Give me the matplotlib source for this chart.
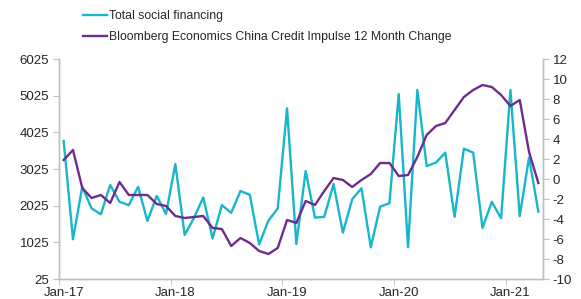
import matplotlib
matplotlib.use("Agg")
import matplotlib.pyplot as plt
from matplotlib.lines import Line2D

plt.rcParams['font.family'] = ['Liberation Sans', 'DejaVu Sans']

months = ['Jan-17','Feb-17','Mar-17','Apr-17','May-17','Jun-17','Jul-17','Aug-17','Sep-17','Oct-17','Nov-17','Dec-17',
          'Jan-18','Feb-18','Mar-18','Apr-18','May-18','Jun-18','Jul-18','Aug-18','Sep-18','Oct-18','Nov-18','Dec-18',
          'Jan-19','Feb-19','Mar-19','Apr-19','May-19','Jun-19','Jul-19','Aug-19','Sep-19','Oct-19','Nov-19','Dec-19',
          'Jan-20','Feb-20','Mar-20','Apr-20','May-20','Jun-20','Jul-20','Aug-20','Sep-20','Oct-20','Nov-20','Dec-20',
          'Jan-21','Feb-21','Mar-21','Apr-21']

tsf = [3790, 1110, 2540, 1950, 1790, 2590, 2130, 2040, 2540, 1610, 2290, 1800,
       3160, 1225, 1690, 2250, 1130, 2040, 1830, 2425, 2320, 970, 1615, 1950,
       4680, 980, 2970, 1700, 1720, 2615, 1290, 2200, 2500, 890, 2000, 2090,
       5070, 890, 5180, 3105, 3200, 3470, 1720, 3580, 3470, 1420, 2130, 1680,
       5180, 1740, 3340, 1860]

impulse = [1.9, 2.9, -0.9, -1.9, -1.6, -2.4, -0.3, -1.6, -1.6, -1.6, -2.5, -2.7,
           -3.7, -3.9, -3.8, -3.7, -4.9, -5.0, -6.7, -5.9, -6.4, -7.2, -7.5, -6.9,
           -4.1, -4.4, -2.2, -2.6, -1.2, 0.1, -0.1, -0.8, -0.1, 0.5, 1.6, 1.6,
           0.3, 0.4, 2.2, 4.4, 5.3, 5.6, 6.9, 8.2, 8.9, 9.4, 9.2, 8.4,
           7.3, 7.9, 2.7, -0.4]

left_ticks = [25, 1025, 2025, 3025, 4025, 5025, 6025]
right_ticks = [-10, -8, -6, -4, -2, 0, 2, 4, 6, 8, 10, 12]
xlabel_months = ['Jan-17', 'Jan-18', 'Jan-19', 'Jan-20', 'Jan-21']

cyan = '#17B6CA'
purple = '#6F2C8F'
grey = '#BFBFBF'
txt = '#262626'
fs = 9.5
lfs = 8.8

W, H = 581, 299
fig = plt.figure(figsize=(W/100, H/100), dpi=100)
L, R, T, B = 59, 543, 59, 279
ax = fig.add_axes([L/W, 1-B/H, (R-L)/W, (B-T)/H])
ax2 = ax.twinx()

x = list(range(len(months)))
ax.plot(x, tsf, color=cyan, lw=1.7, zorder=3)
ax2.plot(x, impulse, color=purple, lw=1.7, zorder=3)

ax.set_xlim(-0.5, len(months) - 0.5)
ax.set_ylim(25, 6025)
ax2.set_ylim(-10, 12)
ax.set_yticks(left_ticks)
ax.set_yticklabels([str(v) for v in left_ticks])
ax2.set_yticks(right_ticks)
ax2.set_yticklabels([str(v) for v in right_ticks])

pos = [months.index(m) for m in xlabel_months]
ax.set_xticks(pos)
ax.set_xticklabels(xlabel_months)
ax.set_xticks([p - 0.5 for p in pos], minor=True)
ax.tick_params(axis='x', which='major', length=0, pad=6, labelsize=fs, labelcolor=txt)
ax.tick_params(axis='x', which='minor', length=4, color=grey, direction='out')
ax.tick_params(axis='y', length=4, color=grey, labelsize=fs, labelcolor=txt, pad=3)
ax2.tick_params(axis='y', length=4, color=grey, labelsize=fs, labelcolor=txt, pad=3)

for a in (ax, ax2):
    a.spines['top'].set_visible(False)
    for s in ['left', 'right', 'bottom']:
        a.spines[s].set_color(grey)
        a.spines[s].set_linewidth(1.0)

handles = [Line2D([], [], color=cyan, lw=1.7), Line2D([], [], color=purple, lw=1.7)]
labels = ['Total social financing', 'Bloomberg Economics China Credit Impulse 12 Month Change']
fig.legend(handles, labels, loc='upper left', bbox_to_anchor=(83/W, 1 - 10/H),
           frameon=False, fontsize=lfs, handlelength=1.95, handletextpad=0.2,
           borderpad=0, borderaxespad=0, labelspacing=0.75, labelcolor=txt)

fig.savefig('out.png', dpi=100)
